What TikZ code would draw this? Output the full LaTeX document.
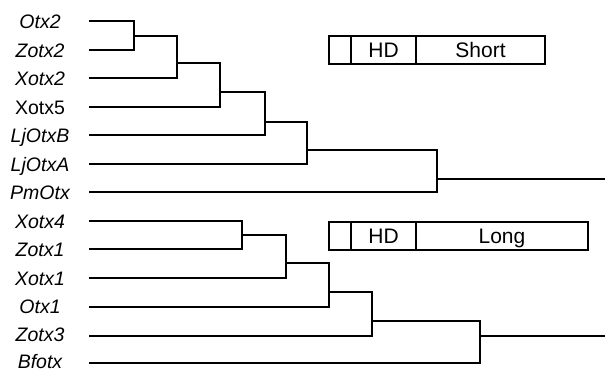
\documentclass[tikz,border=0pt]{standalone}
\usepackage{fontspec}
\setmainfont{Liberation Sans}
\begin{document}
\begin{tikzpicture}[x=1pt,y=-1pt,
  branch/.style={line width=1.5pt, line cap=rect},
  taxon/.style={anchor=base, inner sep=0pt, font=\fontsize{19.5}{22}\selectfont\itshape},
  taxonup/.style={taxon, font=\fontsize{19.5}{22}\selectfont},
  seg/.style={draw, line width=1.2pt, minimum height=28pt, inner sep=0pt},
  segtext/.style={anchor=base, inner sep=0pt, font=\fontsize{21}{24}\selectfont}]
\useasboundingbox (0,0) rectangle (605,373);

% taxon labels (centred in the left margin)
\node[taxon]   (tOtx2)   at (40,28)  {Otx2};
\node[taxon]   (tZotx2)  at (40,57)  {Zotx2};
\node[taxon]   (tXotx2)  at (40,85)  {Xotx2};
\node[taxonup] (tXotx5)  at (40,114) {Xotx5};
\node[taxon]   (tLjOtxB) at (40,142) {LjOtxB};
\node[taxon]   (tLjOtxA) at (40,171) {LjOtxA};
\node[taxon]   (tPmOtx)  at (40,199) {PmOtx};
\node[taxon]   (tXotx4)  at (40,228) {Xotx4};
\node[taxon]   (tZotx1)  at (40,256) {Zotx1};
\node[taxon]   (tXotx1)  at (40,285) {Xotx1};
\node[taxon]   (tOtx1)   at (40,313) {Otx1};
\node[taxon]   (tZotx3)  at (40,341) {Zotx3};
\node[taxon]   (tBfotx)  at (40,368.5) {Bfotx};

% leaf tips
\coordinate (Otx2)   at (90,21);
\coordinate (Zotx2)  at (90,50);
\coordinate (Xotx2)  at (90,78);
\coordinate (Xotx5)  at (90,107);
\coordinate (LjOtxB) at (90,135);
\coordinate (LjOtxA) at (90,164);
\coordinate (PmOtx)  at (90,192);
\coordinate (Xotx4)  at (90,221);
\coordinate (Zotx1)  at (90,249);
\coordinate (Xotx1)  at (90,278);
\coordinate (Otx1)   at (90,307);
\coordinate (Zotx3)  at (90,336);
\coordinate (Bfotx)  at (90,363);

% internal nodes, upper clade
\coordinate (n1) at (134,36);
\coordinate (n2) at (177,63);
\coordinate (n3) at (220,92);
\coordinate (n4) at (265,122);
\coordinate (n5) at (307,150);
\coordinate (n6) at (437,179);
\coordinate (r1) at (605,179);

% internal nodes, lower clade
\coordinate (m1) at (242,235);
\coordinate (m2) at (286,263);
\coordinate (m3) at (329,292);
\coordinate (m4) at (372,321);
\coordinate (m5) at (480,336);
\coordinate (r2) at (605,336);

% upper tree
\draw[branch] (Otx2) -| (n1) |- (Zotx2);
\draw[branch] (n1) -| (n2) |- (Xotx2);
\draw[branch] (n2) -| (n3) |- (Xotx5);
\draw[branch] (n3) -| (n4) |- (LjOtxB);
\draw[branch] (n4) -| (n5) |- (LjOtxA);
\draw[branch] (n5) -| (n6) |- (PmOtx);
\draw[branch] (n6) -- (r1);

% lower tree
\draw[branch] (Xotx4) -| (m1) |- (Zotx1);
\draw[branch] (m1) -| (m2) |- (Xotx1);
\draw[branch] (m2) -| (m3) |- (Otx1);
\draw[branch] (m3) -| (m4) |- (Zotx3);
\draw[branch] (m4) -| (m5) |- (Bfotx);
\draw[branch] (m5) -- (r2);

% protein domain schemes
\node[seg, minimum width=22pt]  (s1) at (340,50)    {};
\node[seg, minimum width=65pt]  (s2) at (383.5,50)  {};
\node[seg, minimum width=129pt] (s3) at (480.5,50)  {};
\node[segtext] at (383.5,57.5) {HD};
\node[segtext] at (480.5,57.5) {Short};

\node[seg, minimum width=22pt]  (l1) at (340,236)   {};
\node[seg, minimum width=65pt]  (l2) at (383.5,236) {};
\node[seg, minimum width=172pt] (l3) at (502,236)   {};
\node[segtext] at (383.5,243.5) {HD};
\node[segtext] at (502,243.5) {Long};
\end{tikzpicture}
\end{document}
